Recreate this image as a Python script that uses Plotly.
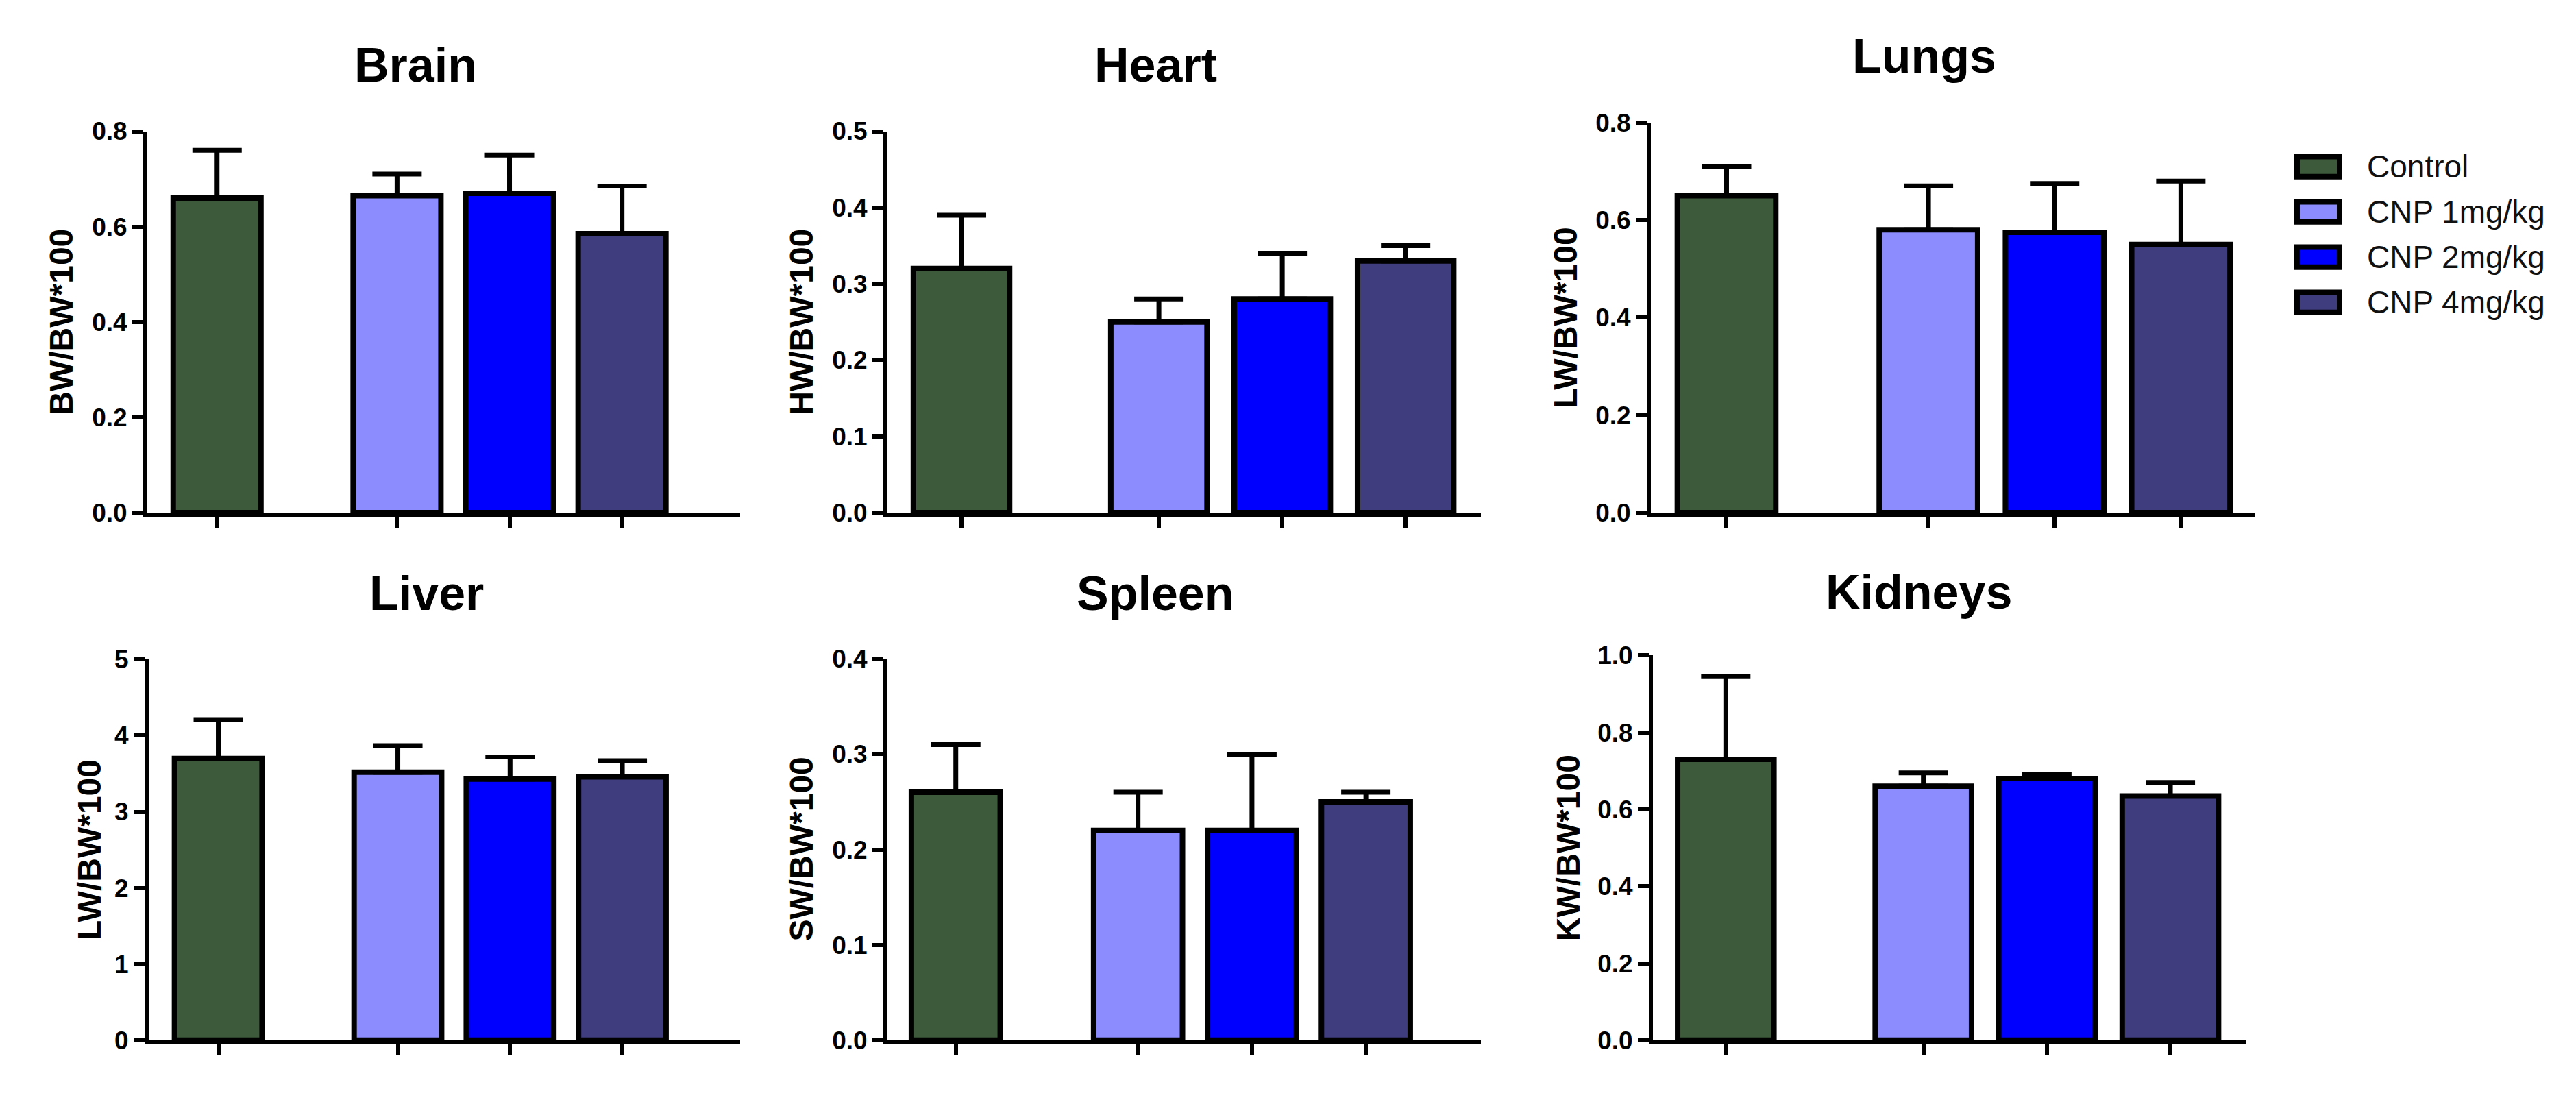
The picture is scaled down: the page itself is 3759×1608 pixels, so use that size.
import plotly.graph_objects as go

# groups and colours (same order in every panel)
groups = ["Control", "CNP 1mg/kg", "CNP 2mg/kg", "CNP 4mg/kg"]
colors = ["#3d5a3a", "#8c8cff", "#0000ff", "#3f3d7d"]

organs = ["Brain", "Heart", "Lungs", "Liver", "Spleen", "Kidneys"]
ylabels = ["BW/BW*100", "HW/BW*100", "LW/BW*100", "LW/BW*100", "SW/BW*100", "KW/BW*100"]

# mean and SD (upper error only) per organ
brain_mean = [0.66, 0.665, 0.67, 0.585]
brain_sd = [0.10, 0.045, 0.08, 0.10]
heart_mean = [0.32, 0.25, 0.28, 0.33]
heart_sd = [0.07, 0.03, 0.06, 0.02]
lungs_mean = [0.65, 0.58, 0.575, 0.55]
lungs_sd = [0.06, 0.09, 0.10, 0.13]
liver_mean = [3.70, 3.52, 3.43, 3.46]
liver_sd = [0.51, 0.35, 0.29, 0.21]
spleen_mean = [0.26, 0.22, 0.22, 0.25]
spleen_sd = [0.05, 0.04, 0.08, 0.01]
kidneys_mean = [0.73, 0.66, 0.68, 0.635]
kidneys_sd = [0.215, 0.035, 0.01, 0.035]

# y axis: top value, tick step, tick format
y_top = [0.8, 0.5, 0.8, 5, 0.4, 1.0]
y_step = [0.2, 0.1, 0.2, 1, 0.1, 0.2]
y_fmt = [".1f", ".1f", ".1f", "d", ".1f", ".1f"]

means = [brain_mean, heart_mean, lungs_mean, liver_mean, spleen_mean, kidneys_mean]
sds = [brain_sd, heart_sd, lungs_sd, liver_sd, spleen_sd, kidneys_sd]

# ---- layout constants (pixels) ----
W, H = 3759, 1608
X_POS = [0, 1.6, 2.6, 3.6]   # gap between control and treated groups
BAR_W = 0.78
# plot area of each panel: left, right, top, bottom
boxes = [(215, 1080, 176, 747), (1295, 2161, 176, 747), (2409, 3291, 163, 747),
         (217, 1080, 967, 1537), (1295, 2161, 966, 1537), (2412, 3277, 961, 1537)]
x_ranges = [[-0.62, 4.65], [-0.6, 4.21], [-0.6, 4.19],
            [-0.62, 4.65], [-0.6, 4.61], [-0.59, 4.21]]
title_xy = [(606, 77), (1686, 77), (2808, 64), (622, 868), (1686, 868), (2800, 866)]
ylabel_x = [90, 1170, 2284, 130, 1170, 2288]

FONT = "Liberation Sans, Arial, sans-serif"
LW = 6


def px_x(v):
	return v / W


def px_y(v):
	return 1 - v / H


fig = go.Figure()
annotations = []
shapes = []

for i in range(6):
	n = "" if i == 0 else str(i + 1)
	left, right, top, bottom = boxes[i]
	fig.add_trace(go.Bar(
		x=X_POS, y=means[i], width=BAR_W,
		marker=dict(color=colors, line=dict(color="black", width=8)),
		error_y=dict(type="data", array=sds[i], arrayminus=[0] * 4, symmetric=False,
			color="black", thickness=7, width=36),
		xaxis="x" + n, yaxis="y" + n, showlegend=False,
	))
	fig.update_layout(**{
		"xaxis" + n: dict(
			domain=[px_x(left), px_x(right)], anchor="y" + n,
			range=x_ranges[i], showgrid=False, zeroline=False,
			showline=True, linecolor="black", linewidth=LW,
			tickmode="array", tickvals=X_POS, showticklabels=False,
			ticks="outside", ticklen=16, tickwidth=LW, tickcolor="black",
		),
		"yaxis" + n: dict(
			domain=[px_y(bottom), px_y(top)], anchor="x" + n,
			range=[0, y_top[i]], dtick=y_step[i], tick0=0, tickformat=y_fmt[i],
			showgrid=False, zeroline=False,
			showline=True, linecolor="black", linewidth=LW,
			ticks="outside", ticklen=16, tickwidth=LW, tickcolor="black",
			tickfont=dict(family=FONT, size=37, color="black", weight="bold"),
		),
	})
	# panel title
	annotations.append(dict(
		text=organs[i], xref="paper", yref="paper",
		x=px_x(title_xy[i][0]), y=px_y(title_xy[i][1]),
		xanchor="center", yanchor="middle", showarrow=False,
		font=dict(family=FONT, size=70, color="black", weight="bold"),
	))
	# y axis title
	annotations.append(dict(
		text=ylabels[i], xref="paper", yref="paper",
		x=px_x(ylabel_x[i]), y=px_y((top + bottom) / 2),
		xanchor="center", yanchor="middle", textangle=-90, showarrow=False,
		font=dict(family=FONT, size=48, color="black", weight="bold"),
	))

# legend drawn by hand so the swatches can be as big as the original
for k in range(4):
	cy = 229 + 67.7 * k
	shapes.append(dict(
		type="rect", xref="paper", yref="paper",
		x0=px_x(3352), x1=px_x(3414), y0=px_y(cy + 15), y1=px_y(cy - 15),
		fillcolor=colors[k], line=dict(color="black", width=8),
	))
	annotations.append(dict(
		text=groups[k], xref="paper", yref="paper",
		x=px_x(3452), y=px_y(cy), xanchor="left", yanchor="middle", showarrow=False,
		font=dict(family=FONT, size=46, color="#111111"),
	))

fig.update_layout(
	width=W, height=H, autosize=False,
	margin=dict(l=0, r=0, t=0, b=0),
	paper_bgcolor="white", plot_bgcolor="white",
	annotations=annotations, shapes=shapes,
	showlegend=False,
)

fig.write_html("out.html", config={"displayModeBar": False},
	post_script="document.body.style.margin='0';")
